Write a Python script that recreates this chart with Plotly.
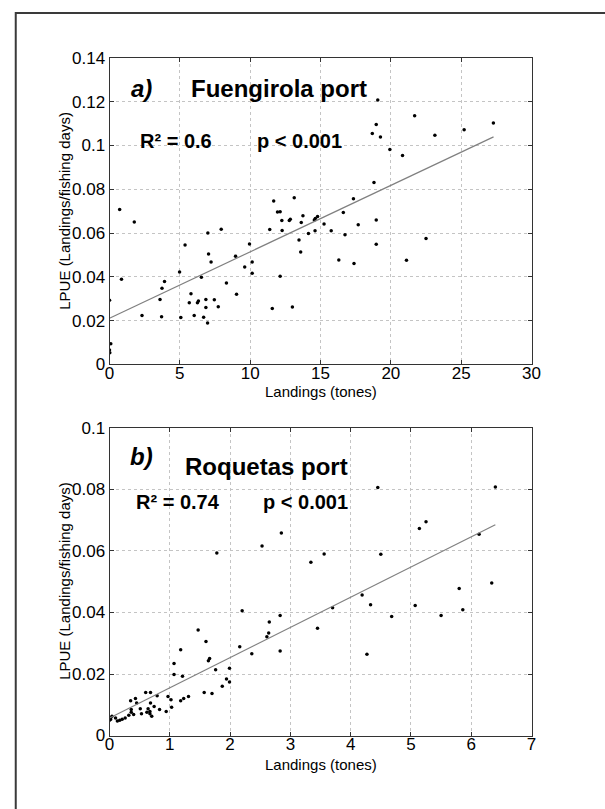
import plotly.graph_objects as go

W, H = 605, 809

# ---------------- Panel a) Fuengirola port ----------------
a_landings = [0.72, 1.76, 0.85, 0.0, 0.09, 0.0, 0.02, 2.31, 3.91, 3.73, 3.59, 3.70,
              4.98, 5.37, 5.07, 5.79, 5.67, 6.02, 6.25, 6.32, 6.53, 6.69, 6.85, 6.85,
              6.99, 7.04, 6.97, 7.22, 7.45, 7.73, 7.94, 8.31, 8.96, 9.03, 9.61, 9.95,
              10.14, 10.14, 11.39, 11.57, 11.67, 11.94, 12.13, 12.13, 12.25, 12.27,
              12.78, 12.85, 13.13, 13.00, 13.47, 13.59, 13.63, 13.75, 14.14, 14.56,
              14.63, 14.61, 14.79, 15.25, 15.76, 16.30, 16.62, 16.74, 17.34, 17.38,
              17.68, 18.96, 18.96, 21.11, 22.50, 19.07, 21.69, 18.96, 18.68, 19.26,
              23.13, 25.21, 27.29, 19.93, 20.83, 18.80]
a_lpue = [0.0708, 0.0650, 0.0389, 0.0293, 0.0095, 0.0066, 0.0053, 0.0224, 0.0379, 0.0348,
          0.0297, 0.0218, 0.0422, 0.0545, 0.0214, 0.0323, 0.0282, 0.0223, 0.0282, 0.0290,
          0.0398, 0.0215, 0.0297, 0.0260, 0.0600, 0.0504, 0.0189, 0.0468, 0.0296, 0.0263,
          0.0617, 0.0372, 0.0494, 0.0321, 0.0445, 0.0550, 0.0468, 0.0416, 0.0616, 0.0256,
          0.0746, 0.0696, 0.0697, 0.0403, 0.0657, 0.0612, 0.0657, 0.0663, 0.0761, 0.0262,
          0.0568, 0.0514, 0.0648, 0.0679, 0.0598, 0.0660, 0.0666, 0.0610, 0.0675, 0.0641,
          0.0610, 0.0477, 0.0694, 0.0592, 0.0757, 0.0461, 0.0638, 0.0660, 0.0549, 0.0476,
          0.0575, 0.1207, 0.1136, 0.1096, 0.1054, 0.1039, 0.1047, 0.1072, 0.1103, 0.0981,
          0.0954, 0.0831]
a_fit_x = [0.0, 27.3]
a_fit_y = [0.0211, 0.1039]
a_xticks = [0, 5, 10, 15, 20, 25, 30]
a_yticks = [0, 0.02, 0.04, 0.06, 0.08, 0.10, 0.12, 0.14]
a_yticktext = ["0", "0.02", "0.04", "0.06", "0.08", "0.1", "0.12", "0.14"]

# ---------------- Panel b) Roquetas port ----------------
b_landings = [1.78, 2.53, 2.85, 3.34, 3.56, 2.20, 1.47, 2.65, 2.83, 2.64, 3.45, 3.70,
              4.45, 6.40, 5.14, 5.25, 6.13, 4.50, 6.34, 5.80, 5.86, 5.07, 5.50, 4.68,
              4.33, 4.19, 4.27, 1.60, 1.18, 1.64, 1.66, 1.07, 1.07, 1.21, 1.76, 1.99,
              1.94, 1.99, 1.87, 2.16, 2.36, 2.61, 2.83, 1.57, 1.70, 1.31, 1.23, 1.18,
              1.02, 0.97, 1.03, 0.94, 0.83, 0.79, 0.68, 0.60, 0.68, 0.74, 0.64, 0.67,
              0.62, 0.70, 0.67, 0.53, 0.51, 0.45, 0.43, 0.35, 0.36, 0.36, 0.40, 0.32,
              0.26, 0.21, 0.17, 0.13, 0.04, 0.00, 0.02, 0.10]
b_lpue = [0.0593, 0.0616, 0.0658, 0.0563, 0.0590, 0.0406, 0.0343, 0.0369, 0.0390, 0.0333,
          0.0349, 0.0415, 0.0806, 0.0808, 0.0673, 0.0695, 0.0654, 0.0589, 0.0496, 0.0478,
          0.0409, 0.0423, 0.0390, 0.0387, 0.0425, 0.0457, 0.0264, 0.0306, 0.0279, 0.0243,
          0.0250, 0.0234, 0.0198, 0.0193, 0.0214, 0.0219, 0.0184, 0.0174, 0.0160, 0.0289,
          0.0266, 0.0321, 0.0275, 0.0140, 0.0137, 0.0127, 0.0120, 0.0113, 0.0116, 0.0127,
          0.0092, 0.0078, 0.0085, 0.0129, 0.0140, 0.0140, 0.0106, 0.0094, 0.0087, 0.0078,
          0.0076, 0.0063, 0.0071, 0.0071, 0.0087, 0.0106, 0.0120, 0.0113, 0.0076, 0.0085,
          0.0068, 0.0066, 0.0057, 0.0053, 0.0050, 0.0047, 0.0063, 0.0050, 0.0053, 0.0057]
b_fit_x = [0.0, 6.4]
b_fit_y = [0.0057, 0.0685]
b_xticks = [0, 1, 2, 3, 4, 5, 6, 7]
b_yticks = [0, 0.02, 0.04, 0.06, 0.08, 0.10]
b_yticktext = ["0", "0.02", "0.04", "0.06", "0.08", "0.1"]

FONT = "Liberation Sans, Arial, Helvetica, sans-serif"


def px(p):
    return p / W


def py(p):
    return 1 - p / H


fig = go.Figure()

dot = dict(color="black", size=3.5, line=dict(width=0))
fit_line = dict(color="#808080", width=1.2)

fig.add_trace(go.Scatter(x=a_landings, y=a_lpue, mode="markers", marker=dot,
                         xaxis="x", yaxis="y", showlegend=False))
fig.add_trace(go.Scatter(x=a_fit_x, y=a_fit_y, mode="lines", line=fit_line,
                         xaxis="x", yaxis="y", showlegend=False))
fig.add_trace(go.Scatter(x=b_landings, y=b_lpue, mode="markers", marker=dot,
                         xaxis="x2", yaxis="y2", showlegend=False))
fig.add_trace(go.Scatter(x=b_fit_x, y=b_fit_y, mode="lines", line=fit_line,
                         xaxis="x2", yaxis="y2", showlegend=False))

axis_style = dict(showline=True, linecolor="#333333", linewidth=1, mirror="ticks",
                  ticks="inside", ticklen=4, tickcolor="#333333", tickwidth=1,
                  showgrid=True, gridcolor="#c4c4c4", griddash="dot", gridwidth=1,
                  zeroline=False, tickfont=dict(family=FONT, size=17, color="black"),
                  fixedrange=True)

dom_x = [px(107), px(539)]
fig.update_layout(
    width=W, height=H,
    margin=dict(l=0, r=0, t=0, b=0),
    paper_bgcolor="white", plot_bgcolor="white",
    font=dict(family=FONT, color="black"),
    xaxis=dict(domain=dom_x, range=[0, 30], tickvals=a_xticks,
               ticktext=[str(v) for v in a_xticks], anchor="y",
               ticklabelstandoff=-7, **axis_style),
    yaxis=dict(domain=[py(364), py(50)], range=[0, 0.14], tickvals=a_yticks,
               ticktext=a_yticktext, anchor="x", **axis_style),
    xaxis2=dict(domain=dom_x, range=[0, 7], tickvals=b_xticks,
                ticktext=[str(v) for v in b_xticks], anchor="y2",
                ticklabelstandoff=-7, **axis_style),
    yaxis2=dict(domain=[py(744), py(429)], range=[0, 0.1], tickvals=b_yticks,
                ticktext=b_yticktext, anchor="x2", **axis_style),
)


def note(text, x, y, size, angle=0):
    fig.add_annotation(text=text, x=px(x), y=py(y), xref="paper", yref="paper",
                       xanchor="center", yanchor="middle", showarrow=False,
                       textangle=angle, font=dict(family=FONT, size=size, color="black"))


# Panel a texts
note("<b><i>a)</i></b>", 140, 81, 24)
note("<b>Fuengirola port</b>", 280, 81, 24)
note("<b>R² = 0.6</b>", 175, 135, 20)
note("<b>p &lt; 0.001</b>", 301, 135, 20)
note("Landings (tones)", 323, 392, 15)
note("LPUE (Landings/fishing days)", 61, 207, 15, angle=-90)

# Panel b texts
note("<b><i>b)</i></b>", 140, 458, 24)
note("<b>Roquetas port</b>", 268, 469, 24)
note("<b>R² = 0.74</b>", 177, 505, 20)
note("<b>p &lt; 0.001</b>", 308, 505, 20)
note("Landings (tones)", 323, 774, 15)
note("LPUE (Landings/fishing days)", 61, 586, 15, angle=-90)

# Outer frame (left and top edges visible, others run off the picture)
fig.add_shape(type="rect", xref="paper", yref="paper",
              x0=px(11), x1=px(700), y0=py(900), y1=py(4),
              line=dict(color="#3a3a3a", width=2), fillcolor="rgba(0,0,0,0)",
              layer="below")

fig.write_html("out.html")
